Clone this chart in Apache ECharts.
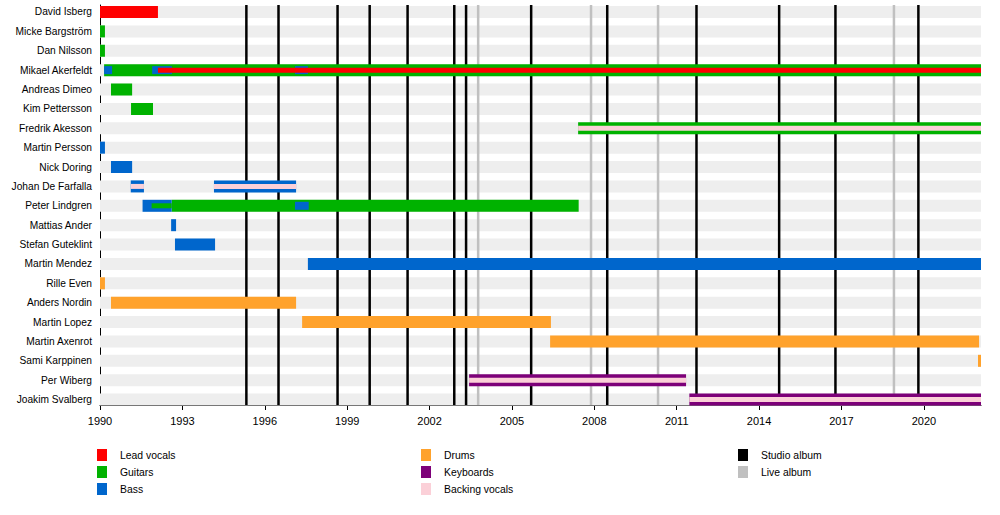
<!DOCTYPE html>
<html>
<head>
<meta charset="utf-8">
<script src="https://cdn.jsdelivr.net/npm/echarts@6/dist/echarts.min.js"></script>
<style>
  html, body { margin: 0; padding: 0; background: #fff; }
  #main { width: 1000px; height: 515px; }
</style>
</head>
<body>
<div id="main"></div>
<script>
var present = 2022.08;

var members = [
  'David Isberg', 'Micke Bargström', 'Dan Nilsson', 'Mikael Akerfeldt',
  'Andreas Dimeo', 'Kim Pettersson', 'Fredrik Akesson', 'Martin Persson',
  'Nick Doring', 'Johan De Farfalla', 'Peter Lindgren', 'Mattias Ander',
  'Stefan Guteklint', 'Martin Mendez', 'Rille Even', 'Anders Nordin',
  'Martin Lopez', 'Martin Axenrot', 'Sami Karppinen', 'Per Wiberg',
  'Joakim Svalberg'
];

// main role of each stint: [member, from, to]
var leadVocals = [
  ['David Isberg', 1990.0, 1992.11]
];
var guitars = [
  ['Micke Bargström', 1990.0, 1990.18],
  ['Dan Nilsson', 1990.0, 1990.18],
  ['Mikael Akerfeldt', 1990.15, present],
  ['Andreas Dimeo', 1990.4, 1991.17],
  ['Kim Pettersson', 1991.13, 1991.93],
  ['Fredrik Akesson', 2007.41, present],
  ['Peter Lindgren', 1992.61, 2007.43]
];
var bass = [
  ['Martin Persson', 1990.0, 1990.18],
  ['Nick Doring', 1990.4, 1991.17],
  ['Johan De Farfalla', 1991.12, 1991.6],
  ['Johan De Farfalla', 1994.15, 1997.14],
  ['Peter Lindgren', 1991.55, 1992.61],
  ['Mattias Ander', 1992.59, 1992.77],
  ['Stefan Guteklint', 1992.73, 1994.19],
  ['Martin Mendez', 1997.57, present]
];
var drums = [
  ['Rille Even', 1990.0, 1990.18],
  ['Anders Nordin', 1990.4, 1997.14],
  ['Martin Lopez', 1997.36, 2006.42],
  ['Martin Axenrot', 2006.39, 2022.01],
  ['Sami Karppinen', 2021.97, present]
];
var keyboards = [
  ['Per Wiberg', 2003.44, 2011.34],
  ['Joakim Svalberg', 2011.46, present]
];

// secondary roles, drawn as a thin stripe inside the main bar
var backingVocals2 = [
  ['Fredrik Akesson', 2007.41, present],
  ['Johan De Farfalla', 1991.12, 1991.6],
  ['Johan De Farfalla', 1994.15, 1997.14],
  ['Per Wiberg', 2003.44, 2011.34],
  ['Joakim Svalberg', 2011.46, present]
];
var bass2 = [
  ['Mikael Akerfeldt', 1990.15, 1990.44],
  ['Mikael Akerfeldt', 1991.9, 1992.62],
  ['Mikael Akerfeldt', 1997.1, 1997.57],
  ['Peter Lindgren', 1997.1, 1997.6]
];
var leadVocals2 = [
  ['Mikael Akerfeldt', 1992.11, present]
];
var guitars2 = [
  ['Peter Lindgren', 1991.88, 1992.61]
];

var studioAlbums = [1995.33, 1996.5, 1998.65, 1999.82, 2001.2, 2002.9, 2003.33,
  2005.7, 2008.47, 2011.72, 2014.73, 2016.78, 2019.8];
var liveAlbums = [2003.77, 2007.88, 2010.32, 2018.91];

var xLabels = [1990, 1993, 1996, 1999, 2002, 2005, 2008, 2011, 2014, 2017, 2020];
var years = [];
for (var yr = 1990; yr <= 2022; yr++) years.push(yr);

var colors = {
  lead: '#ff0000',
  guitars: '#00b200',
  bass: '#0066cc',
  drums: '#ffa22c',
  keys: '#7d0079',
  backing: '#fbd0d8',
  studio: '#000000',
  live: '#c0c0c0'
};

var yMin = -0.361, yMax = 20.279;
var font = '"Liberation Sans", Arial, sans-serif';

function toRows(list) {
  return list.map(function (d) { return [members.indexOf(d[0]), d[1], d[2]]; });
}

function barRender(h) {
  return function (params, api) {
    var a = api.coord([api.value(1), api.value(0)]);
    var b = api.coord([api.value(2), api.value(0)]);
    return {
      type: 'rect',
      shape: { x: a[0], y: a[1] - h / 2, width: b[0] - a[0], height: h },
      style: { fill: api.visual('color') }
    };
  };
}

function lineRender(w) {
  return function (params, api) {
    var top = api.coord([api.value(0), yMin]);
    var bot = api.coord([api.value(0), yMax]);
    return {
      type: 'line',
      shape: { x1: top[0], y1: top[1], x2: bot[0], y2: bot[1] },
      style: { stroke: api.visual('color'), lineWidth: w }
    };
  };
}

function barSeries(name, list, color, h, z) {
  return {
    name: name,
    type: 'custom',
    renderItem: barRender(h),
    itemStyle: { color: color },
    encode: { x: [1, 2], y: 0 },
    data: toRows(list),
    silent: true,
    z: z
  };
}

var myChart = echarts.init(document.getElementById('main'), null, { renderer: 'svg' });

var option = {
  animation: false,
  backgroundColor: '#fff',
  grid: { left: 100, right: 19, top: 5, bottom: 110 },
  xAxis: [
    {
      type: 'value', min: 1990, max: present, position: 'bottom',
      axisLine: { show: true, onZero: false, lineStyle: { color: '#000', width: 1 } },
      axisTick: { show: true, length: 5, customValues: xLabels, lineStyle: { color: '#000' } },
      axisLabel: {
        customValues: xLabels, margin: 10, color: '#000', fontSize: 11, fontFamily: font,
        formatter: function (v) { return String(v); }
      },
      splitLine: { show: false }
    },
    {
      type: 'value', min: 1990, max: present, position: 'bottom',
      axisLine: { show: false },
      axisTick: { show: true, length: 2.5, customValues: years, lineStyle: { color: '#000' } },
      axisLabel: { show: false },
      splitLine: { show: false }
    }
  ],
  yAxis: {
    type: 'value', inverse: true, min: yMin, max: yMax,
    axisLine: { show: true, onZero: false, lineStyle: { color: '#000', width: 1 } },
    axisTick: { show: false },
    axisLabel: {
      customValues: members.map(function (m, i) { return i; }),
      formatter: function (v) { return members[Math.round(v)]; },
      margin: 8, color: '#000', fontSize: 10.2, fontFamily: font
    },
    splitLine: { show: false }
  },
  legend: [
    {
      data: ['Lead vocals', 'Guitars', 'Bass'],
      left: 97, top: 449
    },
    {
      data: ['Drums', 'Keyboards', 'Backing vocals'],
      left: 421, top: 449
    },
    {
      data: ['Studio album', 'Live album'],
      left: 738, top: 449
    }
  ].map(function (l) {
    l.orient = 'vertical';
    l.icon = 'rect';
    l.itemWidth = 10;
    l.itemHeight = 12;
    l.itemGap = 5;
    l.padding = 0;
    l.selectedMode = false;
    l.textStyle = { fontSize: 10.4, color: '#000', fontFamily: font, padding: [0, 0, 0, 8] };
    return l;
  }),
  series: [
    {
      name: 'rows',
      type: 'custom',
      silent: true,
      z: 1,
      encode: { x: [1, 2], y: 0 },
      data: members.map(function (m, i) { return [i, 1990, present]; }),
      renderItem: function (params, api) {
        var a = api.coord([api.value(1), api.value(0)]);
        var b = api.coord([api.value(2), api.value(0)]);
        return {
          type: 'rect',
          shape: { x: a[0], y: a[1] - 6, width: b[0] - a[0], height: 12 },
          style: { fill: '#eeeeee' }
        };
      }
    },
    {
      name: 'Live album', type: 'custom', silent: true, z: 2,
      itemStyle: { color: colors.live },
      encode: { x: 0 },
      data: liveAlbums.map(function (v) { return [v]; }),
      renderItem: lineRender(2.5)
    },
    {
      name: 'Studio album', type: 'custom', silent: true, z: 2,
      itemStyle: { color: colors.studio },
      encode: { x: 0 },
      data: studioAlbums.map(function (v) { return [v]; }),
      renderItem: lineRender(2.5)
    },
    barSeries('Lead vocals', leadVocals, colors.lead, 12, 3),
    barSeries('Guitars', guitars, colors.guitars, 12, 3),
    barSeries('Bass', bass, colors.bass, 12, 3),
    barSeries('Drums', drums, colors.drums, 12, 3),
    barSeries('Keyboards', keyboards, colors.keys, 12, 3),
    barSeries('Backing vocals', backingVocals2, colors.backing, 5, 4),
    barSeries('Bass', bass2, colors.bass, 8, 5),
    barSeries('Lead vocals', leadVocals2, colors.lead, 5, 6),
    barSeries('Guitars', guitars2, colors.guitars, 5, 7)
  ]
};

myChart.setOption(option);
</script>
</body>
</html>
